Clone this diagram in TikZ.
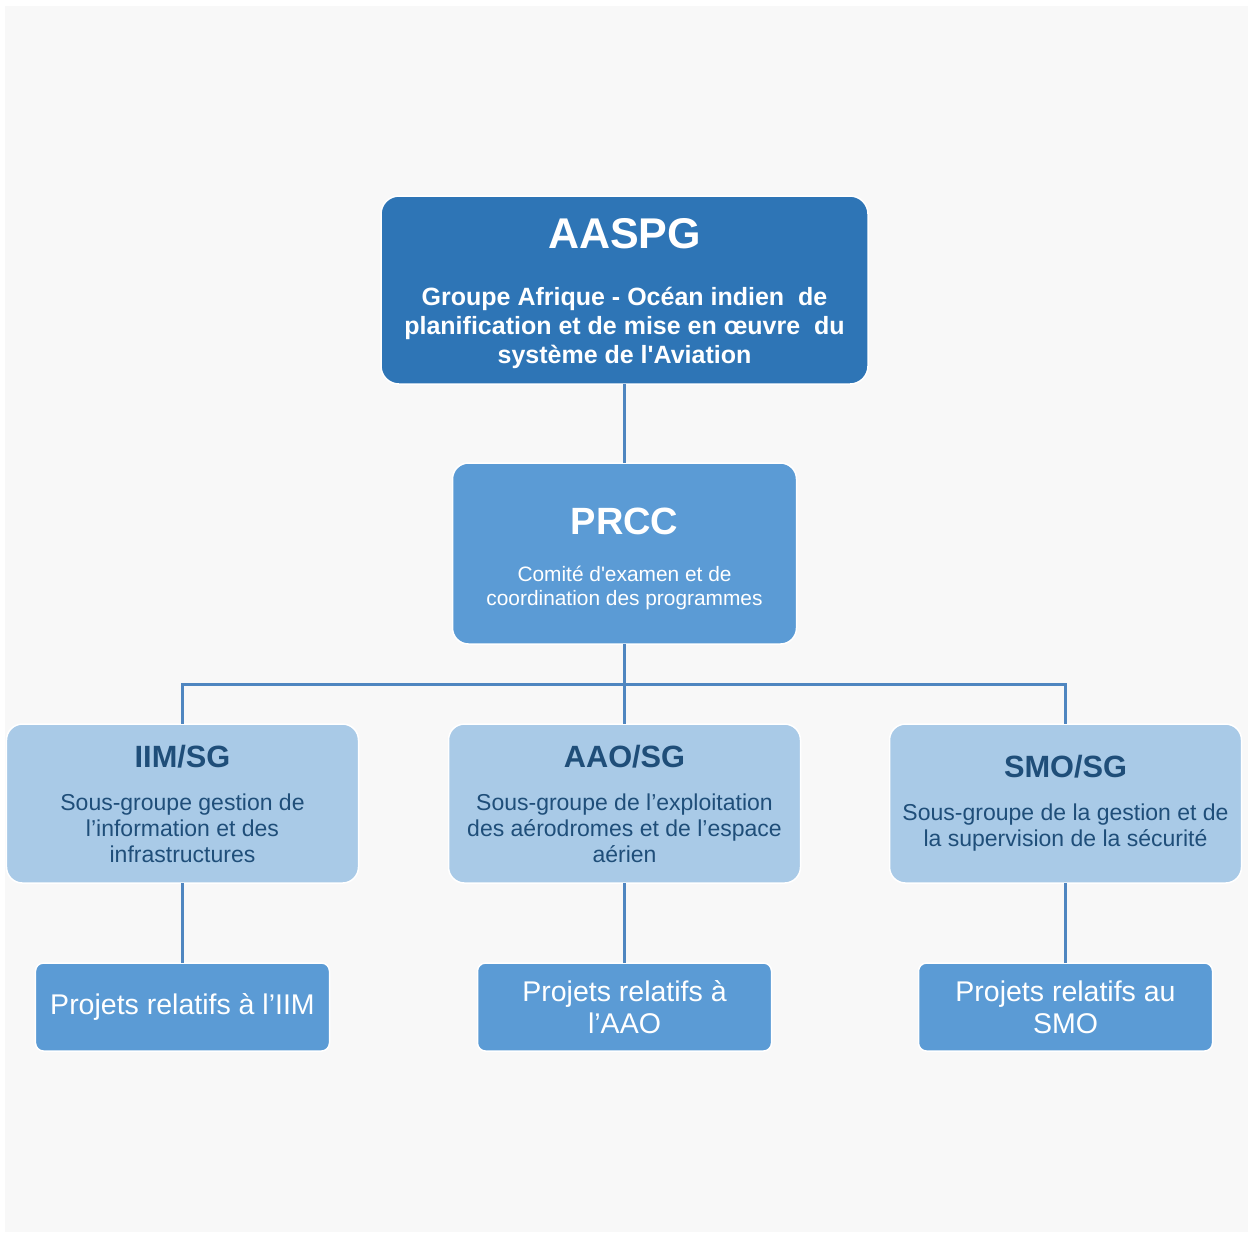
\documentclass[tikz,border=0pt]{standalone}
\usepackage{fontspec}
\setmainfont{Liberation Sans}
\usetikzlibrary{positioning, calc}
\definecolor{aaspgblue}{HTML}{2E75B6}
\definecolor{midblue}{HTML}{5B9BD5}
\definecolor{paleblue}{HTML}{A9CAE7}
\definecolor{darkblue}{HTML}{1F4E79}
\definecolor{linkblue}{HTML}{4F86C0}
\definecolor{canvas}{HTML}{F8F8F8}

\begin{document}
\begin{tikzpicture}[x=0.4pt, y=-0.4pt,
    box/.style={rectangle, 
      draw=white, 
      line width=0.6pt, 
      align=center, 
      inner sep=0pt, 
      outer sep=0pt},
    planning/.style={box, 
      fill=aaspgblue, 
      text=white, 
      rounded corners=7.2pt, 
      minimum width=194.8pt, 
      minimum height=75.2pt, 
      font=\fontsize{10}{11.6}\selectfont\bfseries},
    committee/.style={box, 
      fill=midblue, 
      text=white, 
      rounded corners=6.4pt, 
      minimum width=137.6pt, 
      minimum height=72.4pt, 
      font=\fontsize{8.35}{9.6}\selectfont},
    subgroup/.style={box, 
      fill=paleblue, 
      text=darkblue, 
      rounded corners=6.4pt, 
      minimum width=140.8pt, 
      minimum height=63.6pt, 
      font=\fontsize{9.2}{10.4}\selectfont},
    projects/.style={box, 
      fill=midblue, 
      text=white, 
      rounded corners=3.2pt, 
      minimum width=117.6pt, 
      minimum height=35.2pt, 
      font=\fontsize{11.4}{12.8}\selectfont},
    link/.style={draw=linkblue, line width=1.2pt}]

  \useasboundingbox (0,0) rectangle (1250,1234);
  \fill[white] (0,0) rectangle (1250,1234);
  \fill[canvas] (5,6) rectangle (1248,1232);

  % GROUPE ET COMITE

  \node[planning] (aaspg) at (624.5,290) {%
    {\fontsize{17.2}{20}\selectfont\rule{0pt}{14.7pt}AASPG}\\[11.2pt]
    Groupe Afrique - Océan indien\ \ de\\
    planification et de mise en œuvre\ \ du\\
    système de l\textquotesingle Aviation};

  \node[committee, below=31.6pt of aaspg] (prcc) {%
    {\fontsize{15.2}{18}\selectfont\bfseries\rule{0pt}{14.9pt}PRCC}\\[9.4pt]
    Comité d\textquotesingle examen et de\\
    coordination des programmes};

  % SOUS-GROUPES

  \node[subgroup, below=32pt of prcc] (aao) {%
    {\fontsize{12.3}{15}\selectfont\bfseries AAO/SG}\\[6.8pt]
    Sous-groupe de l’exploitation\\
    des aérodromes et de l’espace\\
    aérien};

  \node[subgroup, left=36pt of aao] (iim) {%
    {\fontsize{12.3}{15}\selectfont\bfseries IIM/SG}\\[6.8pt]
    Sous-groupe gestion de\\
    l’information et des\\
    infrastructures};

  \node[subgroup, right=35.6pt of aao] (smo) {%
    {\fontsize{12.3}{15}\selectfont\bfseries SMO/SG}\\[6.8pt]
    Sous-groupe de la gestion et de\\
    la supervision de la sécurité};

  % PROJETS

  \node[projects, below=32pt of iim] (iimproj) {Projets relatifs à l’IIM};
  \node[projects, below=32pt of aao] (aaoproj) {Projets relatifs à\\l’AAO};
  \node[projects, below=32pt of smo] (smoproj) {Projets relatifs au\\SMO};

  % LIENS

  \draw[link] (aaspg) -- (prcc);
  \draw[link] (prcc) -- (aao);
  \draw[link] (prcc.south) -- ++(0,-16pt) -| (iim.north);
  \draw[link] (prcc.south) -- ++(0,-16pt) -| (smo.north);
  \draw[link] (iim) -- (iimproj);
  \draw[link] (aao) -- (aaoproj);
  \draw[link] (smo) -- (smoproj);

\end{tikzpicture}
\end{document}
